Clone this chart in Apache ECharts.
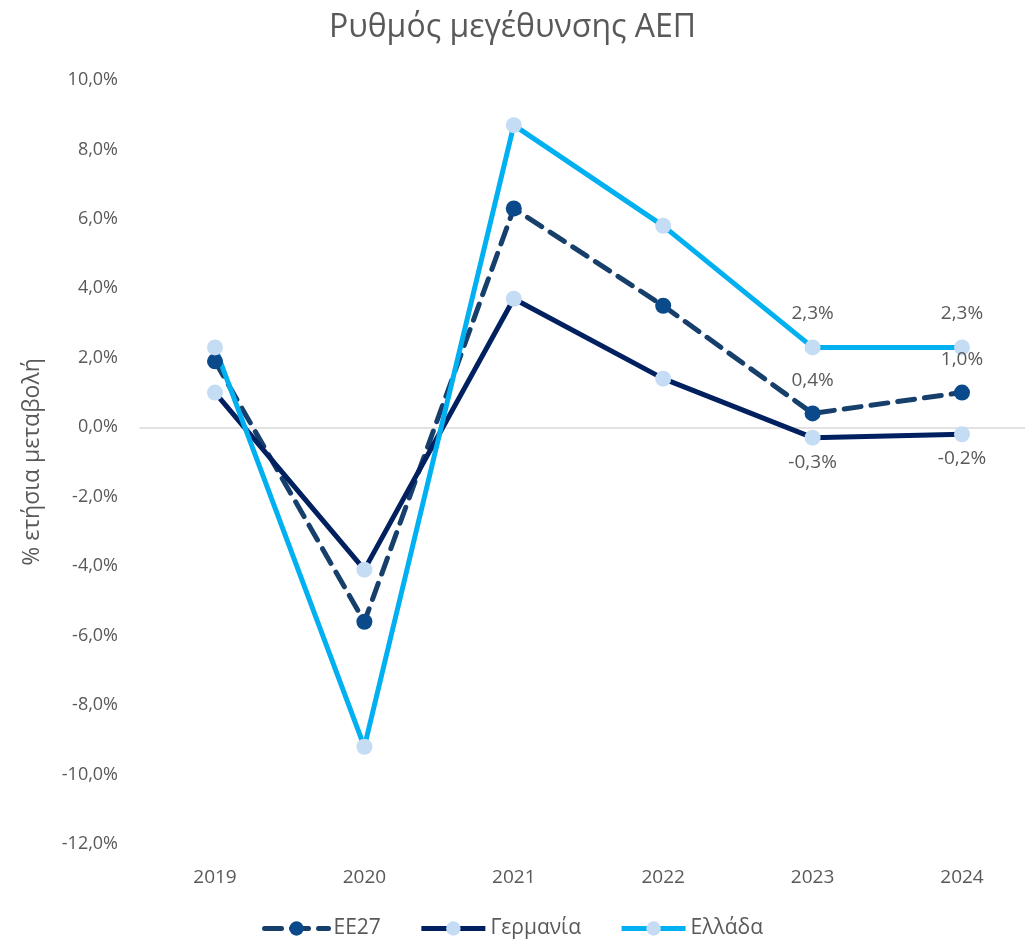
<!DOCTYPE html>
<html>
<head>
<meta charset="utf-8">
<script src="https://cdn.jsdelivr.net/npm/echarts@6/dist/echarts.min.js"></script>
<style>
  html, body { margin: 0; padding: 0; background: #fff; }
  #chart { width: 1025px; height: 941px; }
</style>
</head>
<body>
<div id="chart"></div>
<script>
var years = ["2019", "2020", "2021", "2022", "2023", "2024"];
var ee27 = [1.9, -5.6, 6.3, 3.5, 0.4, 1.0];
var germany = [1.0, -4.1, 3.7, 1.4, -0.3, -0.2];
var greece = [2.3, -9.2, 8.7, 5.8, 2.3, 2.3];
// only the last two years carry value labels
var labelledYears = ["2023", "2024"];

var textColor = "#595959";
var font = "'Open Sans', 'Noto Sans', sans-serif";

function pct(v) {
    return v.toFixed(1).replace(".", ",") + "%";
}

function withLabels(values, position) {
    return values.map(function(v, i) {
        var show = labelledYears.indexOf(years[i]) >= 0;
        return { value: v, label: { show: show, position: position } };
    });
}

var myChart = echarts.init(document.getElementById("chart"));

var option = {
    animation: false,
    textStyle: { fontFamily: font },
    title: {
        text: "Ρυθμός μεγέθυνσης ΑΕΠ",
        left: "center",
        top: 7,
        textStyle: { fontSize: 32, fontWeight: "normal", color: textColor, fontFamily: font }
    },
    legend: {
        top: 913,
        left: "center",
        itemWidth: 64,
        itemHeight: 18,
        itemGap: 38,
        lineStyle: { width: 5 },
        textStyle: { fontSize: 21, color: textColor, fontFamily: font },
        data: ["ΕΕ27", "Γερμανία", "Ελλάδα"]
    },
    // grid 0 holds the lines (category centres at 215 .. 962),
    // grid 1 only carries the full-width zero line
    grid: [
        { left: 215, top: 80, bottom: 97, right: 63 },
        { left: 140, top: 80, bottom: 97, right: 0 }
    ],
    xAxis: [
        {
            type: "category",
            data: years,
            boundaryGap: false,
            axisLine: { show: false, onZero: false },
            axisTick: { show: false },
            axisLabel: { fontSize: 19, color: textColor, margin: 24, fontFamily: font }
        },
        {
            type: "category",
            gridIndex: 1,
            data: years,
            axisLine: { show: true, onZero: true, lineStyle: { color: "#D9D9D9", width: 1.5 } },
            axisTick: { show: false },
            axisLabel: { show: false }
        }
    ],
    yAxis: [
        {
            type: "value",
            min: -12,
            max: 10,
            interval: 2,
            splitLine: { show: false },
            axisLine: { show: false },
            axisTick: { show: false },
            axisLabel: { show: false }
        },
        {
            type: "value",
            gridIndex: 1,
            min: -12,
            max: 10,
            interval: 2,
            name: "% ετήσια μεταβολή",
            nameLocation: "middle",
            nameGap: 96,
            nameRotate: 90,
            nameTextStyle: { fontSize: 23, color: textColor, fontFamily: font },
            splitLine: { show: false },
            axisLine: { show: false },
            axisTick: { show: false },
            axisLabel: {
                fontSize: 18,
                color: textColor,
                margin: 22,
                fontFamily: font,
                formatter: pct
            }
        }
    ],
    series: [
        {
            name: "ΕΕ27",
            type: "line",
            data: withLabels(ee27, "top"),
            symbol: "circle",
            symbolSize: 16,
            z: 3,
            lineStyle: { color: "#173F6B", width: 5, type: [17, 10], cap: "round" },
            itemStyle: { color: "#0B4A8A" },
            label: { fontSize: 19, color: textColor, distance: 15, formatter: function(p) { return pct(p.value); } }
        },
        {
            name: "Γερμανία",
            type: "line",
            data: withLabels(germany, "bottom"),
            symbol: "circle",
            symbolSize: 16,
            z: 3,
            lineStyle: { color: "#002060", width: 5 },
            itemStyle: { color: "#C5DCF5" },
            label: { fontSize: 19, color: textColor, distance: 7, formatter: function(p) { return pct(p.value); } }
        },
        {
            name: "Ελλάδα",
            type: "line",
            data: withLabels(greece, "top"),
            symbol: "circle",
            symbolSize: 16,
            z: 3,
            lineStyle: { color: "#00B0F0", width: 5 },
            itemStyle: { color: "#C5DCF5" },
            label: { fontSize: 19, color: textColor, distance: 16, formatter: function(p) { return pct(p.value); } }
        }
    ]
};

myChart.setOption(option);
</script>
</body>
</html>
